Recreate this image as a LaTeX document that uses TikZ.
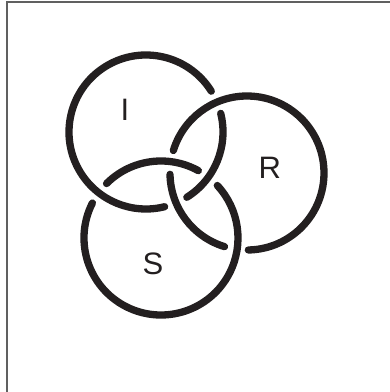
\documentclass[tikz,border=0pt]{standalone}
\usepackage{fontspec}
\setsansfont{Liberation Sans}
\usetikzlibrary{positioning}
\definecolor{ringblack}{HTML}{231F20}
\definecolor{framegray}{HTML}{606060}

\begin{document}
\begin{tikzpicture}[
    x=1pt, y=1pt,
    every node/.style={font=\sffamily\fontsize{31}{31}\selectfont, color=ringblack},
    ring/.style={draw=ringblack, line width=7.3pt, line cap=round},
    frameline/.style={draw=framegray, line width=2pt},
]
\useasboundingbox (0,0) rectangle (390,392);
% frame (top and left edge only)
\draw[frameline] (6.5,0) -- (6.5,389.5) -- (390,389.5);
% ring centres, radius 77
\coordinate (Ic) at (146,260);
\coordinate (Rc) at (247,219);
\coordinate (Sc) at (161,154);
% R over I, I over S, S over R
\foreach \c/\a/\b in {Ic/32/284, Ic/-58/14, Rc/181/253, Rc/271/523, Sc/61/135, Sc/153/403}
    \draw[ring] (\c) ++(\a:77pt) arc[start angle=\a, end angle=\b, radius=77pt];
% labels
\node (labI) at (125,281.7) {I};
\node (labR) at (269.7,223.7) {R};
\node (labS) at (153,128.3) {S};
\end{tikzpicture}
\end{document}
